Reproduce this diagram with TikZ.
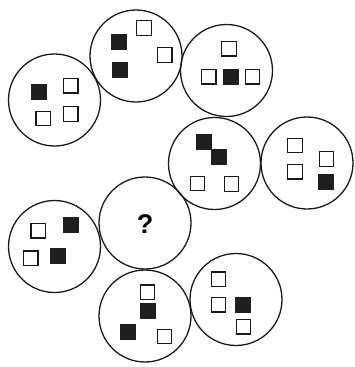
\documentclass[tikz,border=0pt]{standalone}
\usepackage{fontspec}
\setmainfont{Liberation Sans}
\begin{document}
\begin{tikzpicture}[x=1pt,y=-1pt,
  ring/.style={draw=black!90,line width=1.3pt,circle,minimum size=92pt,inner sep=0pt},
  opensq/.style={draw=black!90,line width=1.4pt,fill=white,minimum size=14.5pt,inner sep=0pt},
  fullsq/.style={fill=black!88,minimum size=16pt,inner sep=0pt}]
\useasboundingbox (0,0) rectangle (355,367);
% circles
\node[ring] (c1) at (54.5,100) {};
\node[ring] (c2) at (136,56) {};
\node[ring] (c3) at (226.5,70.5) {};
\node[ring] (c4) at (214.5,163.5) {};
\node[ring] (c5) at (307,163) {};
\node[ring] (c6) at (145,223) {};
\node[ring] (c7) at (54.5,246.5) {};
\node[ring] (c8) at (145,316) {};
\node[ring] (c9) at (236,299.5) {};
% circle 1
\node[fullsq] (a1) at (39,92) {};
\node[opensq] (a2) at (70.8,85.8) {};
\node[opensq] (a3) at (43.3,118.5) {};
\node[opensq] (a4) at (70.8,114) {};
% circle 2
\node[fullsq] (b1) at (118.8,41.7) {};
\node[fullsq] (b2) at (119.5,70) {};
\node[opensq] (b3) at (144,28) {};
\node[opensq] (b4) at (164.7,55) {};
% circle 3
\node[opensq] (d1) at (229,48.8) {};
\node[opensq] (d2) at (208.8,76.7) {};
\node[fullsq] (d3) at (230.5,76.7) {};
\node[opensq] (d4) at (252.5,76.7) {};
% circle 4
\node[fullsq] (e1) at (204,141.8) {};
\node[fullsq] (e2) at (218.8,156.7) {};
\node[opensq] (e3) at (197.5,183.5) {};
\node[opensq] (e4) at (231.5,184) {};
% circle 5
\node[opensq] (f1) at (295,145.5) {};
\node[opensq] (f2) at (295,171.7) {};
\node[opensq] (f3) at (326.5,159) {};
\node[fullsq] (f4) at (326,182) {};
% circle 6
\node[font=\fontsize{27}{27}\selectfont\bfseries] (q) at (145,224) {?};
% circle 7
\node[opensq] (g1) at (38.2,230.8) {};
\node[fullsq] (g2) at (71.3,225.3) {};
\node[opensq] (g3) at (30.8,258.2) {};
\node[fullsq] (g4) at (58,255.7) {};
% circle 8
\node[opensq] (h1) at (147.5,292.2) {};
\node[fullsq] (h2) at (148,310.5) {};
\node[fullsq] (h3) at (128,332.2) {};
\node[opensq] (h4) at (164.5,336.5) {};
% circle 9
\node[opensq] (i1) at (218.5,279.2) {};
\node[opensq] (i2) at (218.5,304.8) {};
\node[fullsq] (i3) at (242.8,305) {};
\node[opensq] (i4) at (243.5,326.7) {};
\end{tikzpicture}
\end{document}
